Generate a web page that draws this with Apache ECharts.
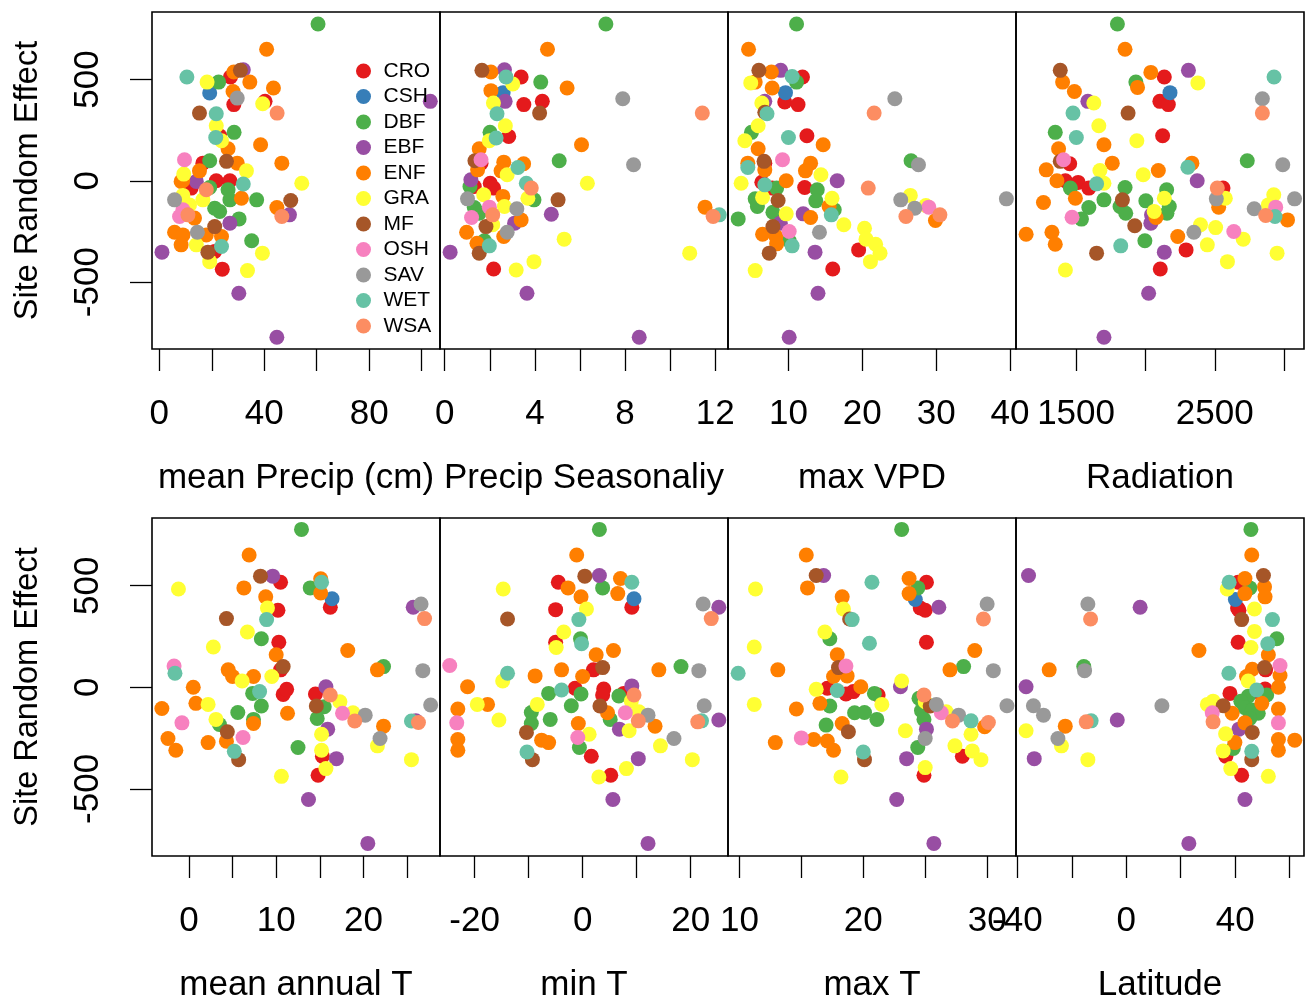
<!DOCTYPE html>
<html>
<head>
<meta charset="utf-8">
<title>Site random effect vs site variables</title>
<script src="https://cdn.jsdelivr.net/npm/echarts@6.0.0/dist/echarts.min.js"></script>
<style>
  html, body { margin: 0; padding: 0; background: #fff; }
  #chart { width: 1306px; height: 1005px; }
</style>
</head>
<body>
<div id="chart"></div>
<script>
// vegetation types (legend order)
const vegTypes = ['CRO', 'CSH', 'DBF', 'EBF', 'ENF', 'GRA', 'MF', 'OSH', 'SAV', 'WET', 'WSA'];

// each point: [x value, site random effect, vegetation type]
const precipPts = [
  [60.5,774,'DBF'],[40.9,649,'ENF'],[10.5,512,'WET'],[18.2,487,'GRA'],[22.6,487,'DBF'],[19.2,433,'CSH'],
  [27.1,512,'CRO'],[28.4,537,'ENF'],[30.9,545,'MF'],[32,548,'EBF'],[34.5,487,'ENF'],[28.1,441,'ENF'],
  [29.7,408,'SAV'],[28.4,376,'CRO'],[43.5,458,'ENF'],[39.4,380,'GRA'],[40.3,392,'CRO'],[44.9,334,'WSA'],
  [103.3,392,'EBF'],[15.3,334,'MF'],[21.7,331,'WET'],[21.7,272,'GRA'],[28.5,239,'DBF'],[21.5,214,'WET'],
  [23,222,'CRO'],[23.7,198,'GRA'],[26.2,158,'ENF'],[38.6,178,'ENF'],[9.6,104,'OSH'],[16.6,87,'CRO'],
  [19.2,99,'DBF'],[25.6,96,'MF'],[29.7,87,'ENF'],[46.7,87,'ENF'],[33.2,49,'GRA'],[15.3,49,'ENF'],
  [9.3,33,'GRA'],[8.9,0,'ENF'],[14.1,-3,'EBF'],[12.1,-36,'CRO'],[21.7,0,'CRO'],[26.9,0,'CRO'],
  [19.2,-33,'DBF'],[26.2,-44,'DBF'],[32,-16,'WET'],[54.3,-12,'GRA'],[5.8,-94,'SAV'],[9,-72,'GRA'],
  [8.3,-3,'ENF'],[17.9,-44,'WSA'],[16.6,-94,'GRA'],[26.9,-94,'DBF'],[31.3,-86,'ENF'],[37.1,-94,'DBF'],
  [21.1,-135,'DBF'],[23,-151,'DBF'],[11.5,-119,'GRA'],[9,-143,'OSH'],[7.7,-176,'OSH'],[10.9,-168,'WSA'],
  [13.4,-184,'ENF'],[44.8,-132,'ENF'],[50.1,-97,'MF'],[46.7,-176,'WSA'],[49.6,-168,'EBF'],[30.4,-188,'DBF'],
  [26.9,-209,'EBF'],[21.1,-226,'MF'],[14.5,-254,'SAV'],[5.8,-254,'ENF'],[9,-267,'ENF'],[8.3,-316,'ENF'],
  [17.9,-267,'ENF'],[23.7,-275,'ENF'],[14.1,-316,'GRA'],[35.2,-296,'DBF'],[23.7,-324,'WET'],[18.5,-352,'MF'],
  [21.1,-349,'CRO'],[19.2,-399,'GRA'],[39.3,-357,'GRA'],[24,-436,'CRO'],[33.6,-443,'GRA'],[1,-352,'EBF'],
  [30.3,-555,'EBF'],[44.8,-772,'EBF']
];

const seasonPts = [
  [7.15,774,'DBF'],[4.56,649,'ENF'],[1.65,545,'MF'],[2.05,537,'ENF'],[2.65,548,'EBF'],[3.02,478,'GRA'],
  [2.72,512,'WET'],[3.39,512,'CRO'],[4.26,487,'DBF'],[2.05,445,'ENF'],[5.43,458,'ENF'],[2.16,384,'GRA'],
  [2.68,392,'EBF'],[2.59,435,'CSH'],[3.51,376,'CRO'],[4.33,392,'CRO'],[4.21,334,'MF'],[7.9,405,'SAV'],
  [11.43,334,'WSA'],[2.32,331,'WET'],[2.69,272,'GRA'],[2.01,239,'DBF'],[2.28,211,'WET'],[1.98,198,'GRA'],
  [2.84,219,'CRO'],[6.07,178,'ENF'],[1.53,158,'ENF'],[1.61,104,'OSH'],[1.34,99,'MF'],[1.61,87,'CRO'],
  [5.08,99,'DBF'],[8.38,79,'SAV'],[2.62,92,'ENF'],[2.5,49,'ENF'],[3.25,66,'WET'],[3.5,84,'ENF'],
  [2.77,30,'GRA'],[1.46,54,'ENF'],[6.33,-12,'GRA'],[1.16,5,'EBF'],[1.31,-28,'CRO'],[2.02,-12,'CRO'],
  [2.17,-36,'CRO'],[1.12,-28,'DBF'],[3.62,-12,'WET'],[3.84,-36,'WSA'],[3.69,-86,'GRA'],[3.96,-94,'DBF'],
  [5.03,-94,'MF'],[1.01,-89,'SAV'],[1.73,-69,'GRA'],[1.31,-132,'DBF'],[1.98,-130,'OSH'],[2.65,-127,'GRA'],
  [3.2,-138,'SAV'],[1.53,-160,'DBF'],[1.19,-181,'OSH'],[2.13,-168,'WSA'],[3.1,-209,'EBF'],[3.39,-193,'ENF'],
  [2.58,-77,'ENF'],[4.73,-165,'EBF'],[11.55,-130,'ENF'],[12.18,-168,'WET'],[11.91,-176,'WSA'],[1.83,-226,'MF'],
  [2.77,-254,'SAV'],[0.97,-254,'ENF'],[1.43,-308,'ENF'],[2.62,-275,'ENF'],[2.13,-217,'GRA'],[1.76,-296,'DBF'],
  [1.98,-321,'WET'],[1.53,-357,'MF'],[5.3,-288,'GRA'],[10.87,-357,'GRA'],[3.96,-399,'GRA'],[3.17,-440,'GRA'],
  [2.17,-435,'CRO'],[0.24,-352,'EBF'],[3.65,-555,'EBF'],[8.63,-772,'EBF']
];

const vpdPts = [
  [11.1,774,'DBF'],[4.6,649,'ENF'],[6,545,'MF'],[8.95,545,'EBF'],[7.7,537,'ENF'],[10.5,515,'WET'],
  [11.1,487,'DBF'],[11.9,512,'CRO'],[4.9,483,'GRA'],[5.5,487,'ENF'],[7.8,458,'ENF'],[9.6,435,'CSH'],
  [9.5,389,'CRO'],[11.3,376,'CRO'],[6.4,384,'GRA'],[6.8,392,'EBF'],[6.8,338,'MF'],[7.1,331,'WET'],
  [24.4,405,'SAV'],[21.6,334,'WSA'],[5.9,272,'GRA'],[5,239,'DBF'],[4.1,198,'GRA'],[10,214,'WET'],
  [12.5,222,'CRO'],[14.7,178,'ENF'],[5.9,158,'ENF'],[9.2,104,'OSH'],[6.7,96,'MF'],[6.8,87,'CRO'],
  [4.5,66,'WET'],[4.5,87,'ENF'],[6.8,54,'ENF'],[13,87,'ENF'],[12.3,49,'ENF'],[14.4,30,'GRA'],
  [16.6,0,'EBF'],[26.6,99,'DBF'],[27.6,79,'SAV'],[20.8,-36,'WSA'],[3.6,-12,'GRA'],[6.4,-7,'CRO'],
  [6.8,-20,'WET'],[9.7,0,'ENF'],[7.8,-36,'CRO'],[8.4,-36,'DBF'],[12.2,-33,'CRO'],[13.9,-44,'DBF'],
  [15.9,-86,'GRA'],[13.7,-99,'DBF'],[5.5,-89,'DBF'],[5.8,-127,'DBF'],[6.5,-82,'GRA'],[8.6,-97,'MF'],
  [7.9,-155,'DBF'],[9.7,-163,'GRA'],[15.8,-168,'WET'],[16.2,-143,'DBF'],[15.5,-127,'ENF'],[12,-163,'EBF'],
  [13,-181,'ENF'],[25.2,-94,'SAV'],[26.5,-72,'GRA'],[27.1,-135,'SAV'],[25.9,-176,'WSA'],[28.6,-122,'GRA'],
  [29,-130,'OSH'],[29.9,-196,'ENF'],[30.5,-168,'WSA'],[39.5,-89,'SAV'],[3.2,-188,'DBF'],[8.9,-209,'EBF'],
  [10.1,-250,'OSH'],[7.9,-226,'MF'],[6.5,-264,'ENF'],[8.3,-275,'ENF'],[8.4,-311,'ENF'],[10.5,-321,'WET'],
  [10.1,-296,'DBF'],[7.4,-357,'MF'],[14.2,-254,'SAV'],[17.5,-217,'GRA'],[20.3,-234,'GRA'],[20.5,-288,'GRA'],
  [21.8,-313,'GRA'],[22.4,-357,'GRA'],[21.1,-399,'GRA'],[19.5,-341,'CRO'],[13.6,-352,'EBF'],[16,-435,'CRO'],
  [5.5,-443,'GRA'],[14,-555,'EBF'],[10.1,-772,'EBF']
];

const radPts = [
  [1798,774,'DBF'],[1853,649,'ENF'],[1386,545,'MF'],[1403,487,'ENF'],[1488,441,'ENF'],[1628,384,'GRA'],
  [1585,392,'EBF'],[1478,334,'WET'],[1875,334,'MF'],[1931,487,'DBF'],[1943,461,'ENF'],[2039,535,'ENF'],
  [2136,512,'CRO'],[2310,545,'EBF'],[2378,483,'GRA'],[2177,435,'CSH'],[2104,392,'CRO'],[2165,376,'CRO'],
  [2927,512,'WET'],[2843,405,'SAV'],[2843,334,'WSA'],[1350,239,'DBF'],[1664,272,'GRA'],[1502,214,'WET'],
  [1938,198,'GRA'],[2124,222,'CRO'],[1701,178,'ENF'],[1374,158,'ENF'],[1386,96,'MF'],[1410,104,'OSH'],
  [1454,84,'CRO'],[1285,54,'ENF'],[1761,87,'ENF'],[1672,51,'GRA'],[1362,0,'ENF'],[1423,0,'CRO'],
  [1459,-36,'DBF'],[1515,-8,'CRO'],[1592,-36,'CRO'],[1648,-15,'WET'],[1701,-12,'GRA'],[1984,30,'GRA'],
  [2093,51,'ENF'],[2335,87,'ENF'],[2306,67,'WET'],[2373,0,'EBF'],[2734,99,'DBF'],[2990,79,'SAV'],
  [1265,-107,'ENF'],[1495,-86,'ENF'],[1592,-132,'DBF'],[1471,-180,'OSH'],[1539,-189,'DBF'],[1701,-94,'DBF'],
  [1834,-94,'MF'],[1817,-127,'DBF'],[1858,-160,'DBF'],[1853,-33,'DBF'],[2003,-99,'DBF'],[2136,-86,'GRA'],
  [2153,-44,'DBF'],[2172,-127,'DBF'],[2155,-160,'DBF'],[2063,-151,'GRA'],[2044,-168,'EBF'],[2039,-209,'EBF'],
  [2076,-181,'ENF'],[1923,-222,'MF'],[1996,-296,'DBF'],[1822,-321,'WET'],[1140,-264,'ENF'],[1326,-254,'ENF'],
  [1350,-313,'ENF'],[1648,-357,'MF'],[1423,-440,'GRA'],[2233,-275,'ENF'],[2349,-254,'SAV'],[2397,-217,'GRA'],
  [2506,-231,'GRA'],[2446,-316,'GRA'],[2293,-341,'CRO'],[2136,-352,'EBF'],[2107,-435,'CRO'],[2591,-399,'GRA'],
  [2637,-250,'OSH'],[2705,-288,'GRA'],[2518,-36,'WSA'],[2559,-36,'CRO'],[2511,-89,'SAV'],[2576,-86,'GRA'],
  [2528,-130,'ENF'],[2784,-138,'SAV'],[2886,-119,'GRA'],[2925,-69,'GRA'],[2867,-171,'WSA'],[2934,-176,'WET'],
  [2939,-130,'OSH'],[3075,-89,'SAV'],[3024,-193,'ENF'],[2949,-357,'GRA'],[2023,-555,'EBF'],[1701,-772,'EBF']
];

const meanTPts = [
  [12.9,777,'DBF'],[6.9,651,'ENF'],[8.2,547,'MF'],[9.6,547,'EBF'],[10.5,517,'CRO'],[-1.2,484,'GRA'],
  [6.3,489,'ENF'],[8.8,445,'ENF'],[9,390,'GRA'],[10.2,379,'CRO'],[8.9,333,'WET'],[4.3,338,'MF'],
  [13.9,489,'DBF'],[15.1,534,'ENF'],[15.2,517,'WET'],[15.1,464,'ENF'],[16.2,394,'CRO'],[16.4,436,'CSH'],
  [25.7,394,'EBF'],[26.6,410,'SAV'],[27,338,'WSA'],[6.7,272,'GRA'],[8.3,239,'DBF'],[10.3,222,'CRO'],
  [2.8,198,'GRA'],[10,160,'ENF'],[18.2,181,'ENF'],[-1.7,105,'OSH'],[-1.6,69,'WET'],[4.5,86,'ENF'],
  [5,53,'ENF'],[6.1,31,'GRA'],[7.4,53,'ENF'],[10.8,102,'MF'],[10.5,86,'CRO'],[9.5,53,'GRA'],
  [21.6,86,'ENF'],[22.3,102,'DBF'],[26.8,82,'SAV'],[0.5,0,'ENF'],[-3.1,-104,'ENF'],[0.8,-79,'ENF'],
  [2.2,-84,'GRA'],[-0.8,-175,'OSH'],[5.6,-124,'DBF'],[3.1,-158,'GRA'],[3.5,-183,'DBF'],[4.4,-219,'MF'],
  [4.3,-265,'ENF'],[2.2,-272,'ENF'],[-2.4,-252,'ENF'],[-1.5,-310,'ENF'],[5.2,-315,'WET'],[5.7,-356,'MF'],
  [6.2,-247,'OSH'],[8.1,-21,'WET'],[7.3,-30,'DBF'],[8.3,-92,'DBF'],[7.4,-178,'ENF'],[7.4,-158,'DBF'],
  [10.8,-35,'CRO'],[11.2,-10,'CRO'],[11.3,-128,'ENF'],[12.5,-296,'DBF'],[15.7,3,'EBF'],[16.2,-38,'WSA'],
  [14.5,-33,'CRO'],[15.5,-96,'DBF'],[14.6,-92,'MF'],[14.7,-153,'DBF'],[17.3,-71,'GRA'],[17.6,-128,'OSH'],
  [18.8,-125,'GRA'],[19,-166,'WSA'],[20.2,-137,'SAV'],[15.9,-206,'EBF'],[15.2,-231,'GRA'],[15.2,-310,'GRA'],
  [15.3,-339,'CRO'],[16.9,-351,'EBF'],[15.7,-400,'GRA'],[14.8,-433,'CRO'],[22.3,-191,'ENF'],[21.6,-288,'GRA'],
  [21.9,-252,'SAV'],[25.5,-166,'WET'],[26.3,-173,'WSA'],[26,-165,'EBF'],[27.7,-87,'SAV'],[25.5,-356,'GRA'],
  [10.6,-438,'GRA'],[13.7,-552,'EBF'],[20.5,-768,'EBF']
];

const minTPts = [
  [3.1,777,'DBF'],[-1.1,651,'ENF'],[0.4,547,'MF'],[3.1,550,'EBF'],[7,535,'ENF'],[9.1,517,'WET'],
  [-4.5,517,'CRO'],[-2.7,489,'ENF'],[3.7,489,'DBF'],[6.5,461,'ENF'],[-0.3,445,'ENF'],[9.1,394,'CRO'],
  [9.5,436,'CSH'],[0.7,385,'GRA'],[-5,382,'CRO'],[-14.7,484,'GRA'],[-13.9,336,'MF'],[-0.7,333,'WET'],
  [22.3,410,'SAV'],[25.2,394,'EBF'],[23.8,338,'WSA'],[-3.5,272,'GRA'],[-0.2,214,'WET'],[-0.4,239,'DBF'],
  [-4.9,196,'GRA'],[-5,222,'CRO'],[2.5,160,'ENF'],[5.7,181,'ENF'],[-24.6,107,'OSH'],[-14.8,31,'GRA'],
  [-13.9,69,'WET'],[-21.3,3,'ENF'],[-8.8,56,'ENF'],[-3.9,86,'ENF'],[3.7,97,'MF'],[2,86,'CRO'],
  [0,53,'ENF'],[14.1,86,'ENF'],[18.2,102,'DBF'],[21.5,82,'SAV'],[-23.1,-107,'ENF'],[-23.3,-175,'OSH'],
  [-23.1,-257,'ENF'],[-23.1,-310,'ENF'],[-19.5,-84,'GRA'],[-17.6,-84,'ENF'],[-15.5,-161,'GRA'],[-6.3,-30,'DBF'],
  [-3.9,-13,'WET'],[-1.4,-5,'CRO'],[-0.3,-33,'DBF'],[-8.4,-84,'GRA'],[-9.5,-124,'DBF'],[-9.5,-178,'DBF'],
  [-10.4,-222,'MF'],[-6,-158,'DBF'],[-2.1,-91,'DBF'],[3.9,-8,'CRO'],[3.7,-38,'CRO'],[6.7,-43,'DBF'],
  [9.1,7,'EBF'],[9.5,-38,'WSA'],[7.6,-30,'CRO'],[3.2,-92,'MF'],[5.1,-158,'DBF'],[4.6,-125,'ENF'],
  [7.9,-125,'OSH'],[9,-68,'GRA'],[10.4,-120,'GRA'],[12.1,-137,'SAV'],[10.3,-165,'WSA'],[6.8,-206,'EBF'],
  [8.6,-214,'GRA'],[13.4,-191,'ENF'],[22.5,-91,'SAV'],[22,-165,'WET'],[21.3,-170,'WSA'],[25.2,-161,'EBF'],
  [16.9,-252,'SAV'],[14.4,-288,'GRA'],[-0.8,-178,'ENF'],[1.2,-231,'GRA'],[-0.9,-247,'OSH'],[-0.6,-296,'DBF'],
  [1.6,-339,'CRO'],[-7.6,-260,'ENF'],[-6.3,-272,'ENF'],[-10.3,-318,'WET'],[-9.3,-356,'MF'],[10.3,-351,'EBF'],
  [8.1,-400,'GRA'],[3,-441,'GRA'],[5.2,-433,'CRO'],[20.3,-356,'GRA'],[5.6,-552,'EBF'],[12.1,-768,'EBF']
];

const maxTPts = [
  [23.1,777,'DBF'],[15.4,651,'ENF'],[16.8,550,'EBF'],[16.2,550,'MF'],[15.5,489,'ENF'],[11.3,484,'GRA'],
  [20.7,517,'WET'],[23.7,535,'ENF'],[24.4,489,'DBF'],[25.1,517,'CRO'],[24.2,432,'CSH'],[23.7,461,'ENF'],
  [24.6,390,'CRO'],[25,379,'CRO'],[26.1,394,'EBF'],[18.3,445,'ENF'],[18.4,385,'GRA'],[18.9,336,'MF'],
  [19.1,333,'WET'],[30,410,'SAV'],[29.7,336,'WSA'],[16.9,272,'GRA'],[17.3,239,'DBF'],[20.5,217,'WET'],
  [25.1,222,'CRO'],[11.2,198,'GRA'],[29,181,'ENF'],[17.9,160,'ENF'],[9.9,69,'WET'],[13.1,86,'ENF'],
  [18.6,105,'OSH'],[18,97,'MF'],[18.3,94,'CRO'],[17.6,53,'ENF'],[18.7,56,'ENF'],[16.2,-10,'GRA'],
  [17.1,-5,'CRO'],[17.9,-16,'WET'],[18.6,-33,'CRO'],[19.2,-21,'CRO'],[19.8,3,'ENF'],[21.2,-38,'CRO'],
  [20.9,-30,'DBF'],[21.5,-84,'GRA'],[23,3,'EBF'],[23.1,31,'GRA'],[27,86,'ENF'],[28.1,102,'DBF'],
  [30.5,82,'SAV'],[11.2,-84,'GRA'],[14.6,-107,'ENF'],[16.5,-79,'ENF'],[17.3,-92,'DBF'],[19.3,-125,'DBF'],
  [20.1,-124,'DBF'],[21.1,-158,'DBF'],[18.3,-178,'ENF'],[18.8,-219,'MF'],[17,-186,'DBF'],[15,-249,'OSH'],
  [16,-257,'ENF'],[17.1,-264,'ENF'],[17.6,-310,'ENF'],[12.9,-272,'ENF'],[20,-318,'WET'],[20.1,-356,'MF'],
  [18.2,-441,'GRA'],[24.9,-38,'WSA'],[24.5,-54,'DBF'],[25.4,-92,'MF'],[25.9,-84,'SAV'],[25,-71,'GRA'],
  [24.7,-115,'DBF'],[24.9,-158,'DBF'],[26.3,-125,'OSH'],[26.7,-120,'GRA'],[27.7,-137,'SAV'],[27.2,-166,'WSA'],
  [28.7,-165,'WET'],[29.8,-194,'ENF'],[30.1,-173,'WSA'],[28.7,-231,'GRA'],[31.6,-91,'SAV'],[25.1,-206,'EBF'],
  [25,-252,'SAV'],[24.4,-296,'DBF'],[23.4,-214,'GRA'],[27.4,-288,'GRA'],[28.8,-313,'GRA'],[28,-339,'CRO'],
  [29.5,-356,'GRA'],[23.5,-351,'EBF'],[24.9,-433,'CRO'],[25,-395,'GRA'],[22.7,-552,'EBF'],[25.7,-768,'EBF']
];

const latPts = [
  [45.8,777,'DBF'],[46.1,651,'ENF'],[50.4,550,'MF'],[43.6,535,'ENF'],[37.8,517,'WET'],[37.1,484,'GRA'],
  [45.4,489,'DBF'],[41.1,517,'CRO'],[43.6,461,'ENF'],[50.8,494,'ENF'],[51,445,'ENF'],[40.1,432,'CSH'],
  [40.9,390,'CRO'],[41.4,379,'CRO'],[47.1,385,'GRA'],[42.4,333,'MF'],[53.7,333,'WET'],[-35.9,550,'EBF'],
  [-14.1,410,'SAV'],[-13.1,336,'WSA'],[5.1,394,'EBF'],[47.1,275,'GRA'],[55.3,239,'DBF'],[52,214,'WET'],
  [41.1,222,'CRO'],[45.8,196,'GRA'],[52.2,160,'ENF'],[26.7,181,'ENF'],[56.5,107,'OSH'],[50.8,97,'MF'],
  [51.2,86,'CRO'],[46.3,89,'ENF'],[44.2,53,'ENF'],[56.5,58,'ENF'],[37.7,69,'WET'],[44.8,31,'GRA'],
  [55.9,0,'ENF'],[47.9,-13,'WET'],[51,-8,'CRO'],[51.6,-38,'DBF'],[49.5,-33,'CRO'],[38.1,-30,'CRO'],
  [44.8,-44,'DBF'],[42.1,-69,'DBF'],[49.8,-79,'ENF'],[43.6,-100,'DBF'],[46.3,-112,'DBF'],[48.5,-128,'DBF'],
  [45.4,-153,'DBF'],[55.9,-107,'ENF'],[55.9,-175,'OSH'],[38.9,-128,'ENF'],[43.6,-175,'ENF'],[35.6,-91,'MF'],
  [31.9,-68,'GRA'],[29.8,-84,'GRA'],[31.6,-125,'OSH'],[31.9,-170,'WSA'],[41.4,-206,'EBF'],[46.3,-222,'MF'],
  [36.5,-229,'GRA'],[39.9,-272,'ENF'],[39.3,-301,'DBF'],[35.6,-313,'GRA'],[36.6,-339,'CRO'],[46.1,-315,'WET'],
  [46.1,-356,'MF'],[55.9,-257,'ENF'],[55.9,-310,'ENF'],[61.9,-260,'ENF'],[38.4,-400,'GRA'],[42.4,-433,'CRO'],
  [52.2,-438,'GRA'],[43.6,-552,'EBF'],[23,-768,'EBF'],[-28.3,86,'ENF'],[-15.3,82,'SAV'],[-15.6,102,'DBF'],
  [-36.8,3,'EBF'],[-34.1,-91,'SAV'],[-30.4,-137,'SAV'],[-22.4,-191,'ENF'],[-12.9,-165,'WET'],[-14.7,-170,'WSA'],
  [-3.3,-161,'EBF'],[13.1,-91,'SAV'],[-36.8,-214,'GRA'],[-25.1,-252,'SAV'],[-23.8,-288,'GRA'],[-33.8,-351,'EBF'],
  [-14.1,-356,'GRA']
];

// tick marks and labelled ticks per panel
const precipTicks = [0, 20, 40, 60, 80, 100];
const precipLabels = [0, 40, 80];
const seasonTicks = [0, 2, 4, 6, 8, 10, 12];
const seasonLabels = [0, 4, 8, 12];
const vpdTicks = [10, 20, 30, 40];
const vpdLabels = [10, 20, 30, 40];
const radTicks = [1500, 2000, 2500, 3000];
const radLabels = [1500, 2500];
const meanTTicks = [0, 5, 10, 15, 20, 25];
const meanTLabels = [0, 10, 20];
const minTTicks = [-20, -10, 0, 10, 20];
const minTLabels = [-20, 0, 20];
const maxTTicks = [10, 15, 20, 25, 30];
const maxTLabels = [10, 20, 30];
const latTicks = [-40, -20, 0, 20, 40, 60];
const latLabels = [-40, 0, 40];
const effectTicks = [-500, 0, 500];

const panels = [
  { title: 'mean Precip (cm)', pts: precipPts, ticks: precipTicks, labels: precipLabels, min: -2.8, max: 107 },
  { title: 'Precip Seasonaliy', pts: seasonPts, ticks: seasonTicks, labels: seasonLabels, min: -0.21, max: 12.57 },
  { title: 'max VPD', pts: vpdPts, ticks: vpdTicks, labels: vpdLabels, min: 1.82, max: 40.8 },
  { title: 'Radiation', pts: radPts, ticks: radTicks, labels: radLabels, min: 1067, max: 3143 },
  { title: 'mean annual T', pts: meanTPts, ticks: meanTTicks, labels: meanTLabels, min: -4.23, max: 28.77 },
  { title: 'min T', pts: minTPts, ticks: minTTicks, labels: minTLabels, min: -26.4, max: 26.9 },
  { title: 'max T', pts: maxTPts, ticks: maxTTicks, labels: maxTLabels, min: 9.08, max: 32.33 },
  { title: 'Latitude', pts: latPts, ticks: latTicks, labels: latLabels, min: -40.5, max: 65.3 }
];

// RColorBrewer Set1 + first two of Set2
const typeColors = {
  CRO: '#E41A1C', CSH: '#377EB8', DBF: '#4DAF4A', EBF: '#984EA3', ENF: '#FF7F00', GRA: '#FFFF33',
  MF: '#A65628', OSH: '#F781BF', SAV: '#999999', WET: '#66C2A5', WSA: '#FC8D62'
};

const font = '"Liberation Sans", Arial, Helvetica, sans-serif';
const chart = echarts.init(document.getElementById('chart'), null, { renderer: 'canvas' });

const grid = [], xAxis = [], yAxis = [], series = [];
panels.forEach((p, i) => {
  const col = i % 4, row = Math.floor(i / 4);
  grid.push({
    left: 152 + col * 288, top: row === 0 ? 12 : 518, width: 288, height: row === 0 ? 337 : 338,
    show: true, borderColor: '#000', borderWidth: 1.6, backgroundColor: 'transparent'
  });
  xAxis.push({
    type: 'value', gridIndex: i, min: p.min, max: p.max,
    axisLine: { show: false, onZero: false },
    axisTick: { show: true, length: 22, customValues: p.ticks, lineStyle: { color: '#000', width: 1.3 } },
    axisLabel: {
      customValues: p.labels, margin: 48, fontSize: 35, color: '#000', fontFamily: font,
      formatter: v => String(v)
    },
    splitLine: { show: false },
    name: p.title, nameLocation: 'middle', nameGap: 112,
    nameTextStyle: { fontSize: 35, color: '#000', fontFamily: font }
  });
  const first = col === 0;
  yAxis.push({
    type: 'value', gridIndex: i, min: -830, max: 833,
    axisLine: { show: false, onZero: false },
    axisTick: { show: first, length: 22, customValues: effectTicks, lineStyle: { color: '#000', width: 1.3 } },
    axisLabel: {
      show: first, customValues: effectTicks, rotate: 90, margin: 46, fontSize: 35, color: '#000',
      fontFamily: font, formatter: v => String(v)
    },
    splitLine: { show: false },
    name: first ? 'Site Random Effect' : '', nameLocation: 'middle', nameGap: 107,
    nameTextStyle: { fontSize: 32.5, color: '#000', fontFamily: font }
  });
  vegTypes.forEach(t => {
    series.push({
      name: t, type: 'scatter', xAxisIndex: i, yAxisIndex: i,
      symbol: 'circle', symbolSize: 15,
      itemStyle: { color: typeColors[t], opacity: 1 },
      data: p.pts.filter(d => d[2] === t).map(d => [d[0], d[1]])
    });
  });
});

chart.setOption({
  animation: false,
  backgroundColor: '#fff',
  legend: {
    data: vegTypes, orient: 'vertical', left: 356, top: 60.5, padding: 0,
    icon: 'circle', itemWidth: 30, itemHeight: 15, itemGap: 4.5,
    textStyle: { fontSize: 21, lineHeight: 21, color: '#000', fontFamily: font }
  },
  grid, xAxis, yAxis, series
});

window.addEventListener('resize', () => chart.resize());
</script>
</body>
</html>
